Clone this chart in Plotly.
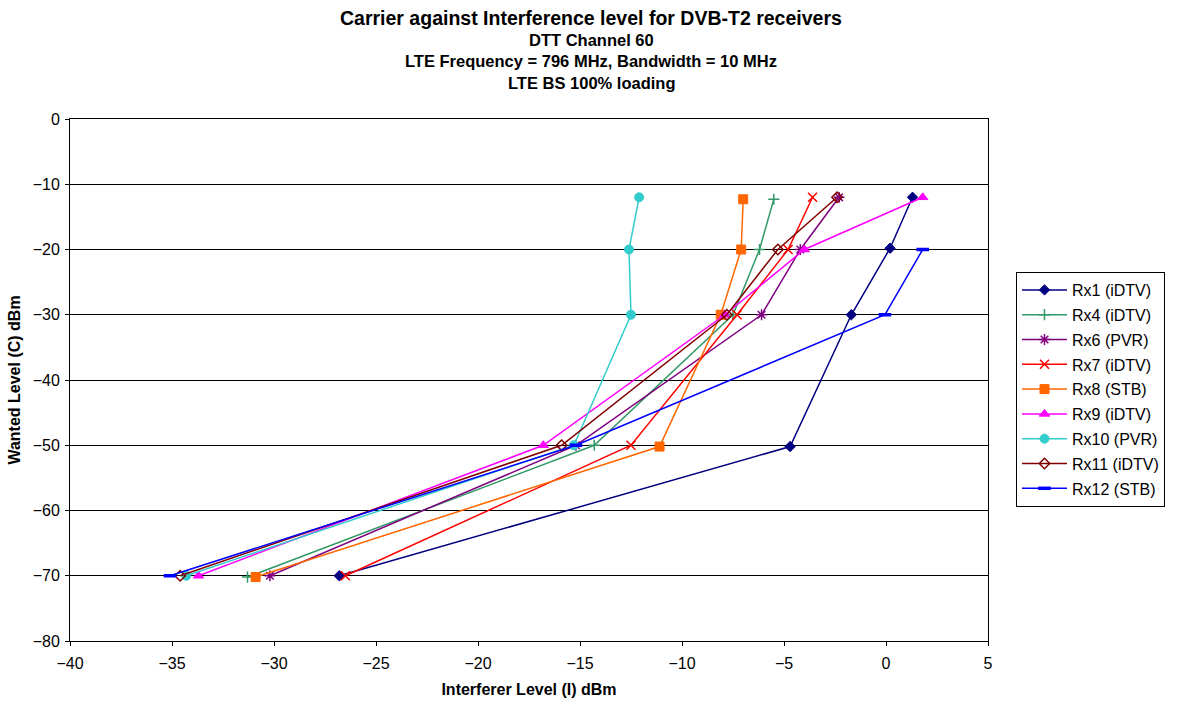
import plotly.graph_objects as go

# Wanted carrier levels (dBm) at which each receiver was measured
wanted_5 = [-12, -20, -30, -50, -70]
wanted_4 = [-20, -30, -50, -70]
wanted_rx8 = [-12.3, -20, -30, -50.2, -70.2]
wanted_rx4 = [-12.3, -20, -30, -50, -70.2]
wanted_rx1 = [-12, -19.8, -30, -50.2, -70]

# Interferer level (dBm) at the failure threshold for each receiver
rx1 = [1.3, 0.2, -1.7, -4.7, -26.8]
rx4 = [-5.5, -6.2, -7.5, -14.3, -31.3]
rx6 = [-2.3, -4.2, -6.1, -15.2, -30.2]
rx7 = [-3.6, -4.8, -7.3, -12.5, -26.5]
rx8 = [-7.0, -7.1, -8.1, -11.1, -30.9]
rx9 = [1.8, -4.0, -7.9, -16.8, -33.7]
rx10 = [-12.1, -12.6, -12.5, -15.3, -34.3]
rx11 = [-2.4, -5.3, -7.8, -15.9, -34.6]
rx12 = [1.8, -0.05, -15.2, -35.1]

series = [
    ("Rx1 (iDTV)", rx1, wanted_rx1, "#000080", "diamond", 8, 1),
    ("Rx4 (iDTV)", rx4, wanted_rx4, "#339966", "cross-thin-open", 8, 1.5),
    ("Rx6 (PVR)", rx6, wanted_5, "#800080", "asterisk-open", 9, 1.5),
    ("Rx7 (iDTV)", rx7, wanted_5, "#FF0000", "x-thin-open", 9, 1.5),
    ("Rx8 (STB)", rx8, wanted_rx8, "#FF6600", "square", 9, 1),
    ("Rx9 (iDTV)", rx9, wanted_5, "#FF00FF", "triangle-up", 9, 1),
    ("Rx10 (PVR)", rx10, wanted_5, "#33CCCC", "circle", 9, 1),
    ("Rx11 (iDTV)", rx11, wanted_5, "#800000", "diamond-open", 8, 1.5),
    ("Rx12 (STB)", rx12, wanted_4, "#0000FF", "line-ew-open", 9, 3.5),
]

fig = go.Figure()
for i, (name, xs, ys, color, symbol, size, mlw) in enumerate(series):
    fig.add_trace(go.Scatter(
        x=xs, y=ys, name=name, mode="lines+markers",
        legendgroup=f"g{i}",
        line=dict(color=color, width=1.5),
        marker=dict(symbol=symbol, size=size, color=color,
                    line=dict(color=color, width=mlw)),
    ))

# Figure size and plot-area margins in pixels
W, H = 1189, 706
L, R, T, B = 70, 201, 119, 65
PW, PH = W - L - R, H - T - B


def px_to_paper(xpx, ypx):
    return (xpx - L) / PW, (H - B - ypx) / PH


title_lines = [
    ("Carrier against Interference level for DVB-T2 receivers", 19.5, 18),
    ("DTT Channel 60", 16.5, 40),
    ("LTE Frequency = 796 MHz, Bandwidth = 10 MHz", 16.5, 61),
    ("LTE BS 100% loading", 16.5, 83),
]
annotations = []
for text, size, ypx in title_lines:
    ax, ay = px_to_paper(591, ypx)
    annotations.append(dict(
        text=f"<b>{text}</b>", x=ax, y=ay,
        xref="paper", yref="paper", xanchor="center", yanchor="middle",
        showarrow=False, font=dict(size=size, color="black"),
    ))

lx, ly = px_to_paper(1016, 272)

fig.update_layout(
    width=W, height=H,
    margin=dict(l=L, r=R, t=T, b=B),
    paper_bgcolor="white", plot_bgcolor="white",
    font=dict(family="Liberation Sans, Arial, sans-serif", size=16, color="black"),
    annotations=annotations,
    showlegend=True,
    legend=dict(
        x=lx, y=ly, xanchor="left", yanchor="top",
        bordercolor="black", borderwidth=1,
        font=dict(size=16),
        traceorder="grouped", tracegroupgap=1,
        itemwidth=45,
    ),
    xaxis=dict(
        range=[-40, 5], dtick=5, tick0=-40,
        showgrid=False, zeroline=False,
        showline=True, linecolor="black", linewidth=1, mirror=True,
        ticks="outside", ticklen=4, tickcolor="black",
        ticklabelstandoff=4,
        tickfont=dict(size=16),
        title=dict(text="<b>Interferer Level (I) dBm</b>", font=dict(size=16), standoff=12),
    ),
    yaxis=dict(
        range=[-80, 0], dtick=10, tick0=-80,
        showgrid=True, gridcolor="black", gridwidth=1,
        zeroline=False,
        showline=True, linecolor="black", linewidth=1, mirror=True,
        ticks="outside", ticklen=4, tickcolor="black",
        ticklabelstandoff=2,
        tickfont=dict(size=16),
        title=dict(text="<b>Wanted Level (C) dBm</b>", font=dict(size=16), standoff=8),
    ),
)

fig.write_html("out.html")
